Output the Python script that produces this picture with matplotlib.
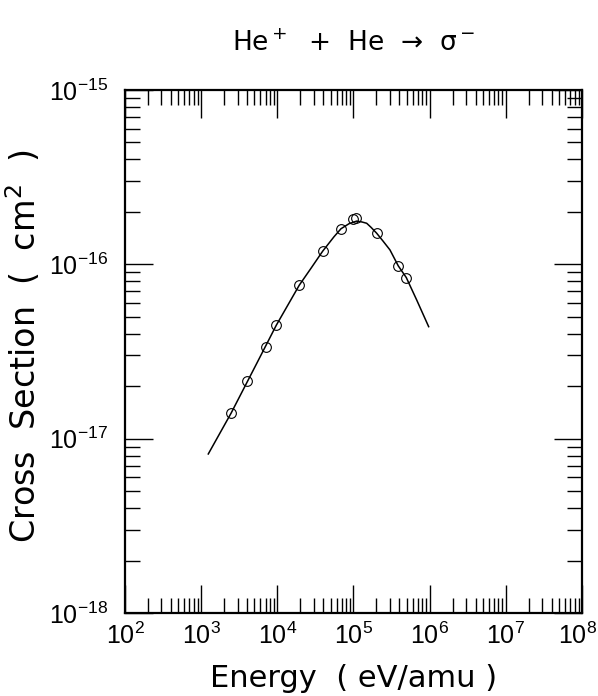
import matplotlib
matplotlib.use("Agg")
import matplotlib.pyplot as plt
import matplotlib.transforms as mtransforms
from matplotlib.ticker import LogLocator

# fitted curve (energy in eV/amu, cross section in cm^2)
fit_energy = [1.24e3, 2.47e3, 5.36e3, 9.68e3, 1.94e4, 2.77e4, 3.94e4, 5.55e4, 6.85e4, 8.73e4,
              1.10e5, 1.29e5, 1.49e5, 1.70e5, 2.01e5, 2.44e5, 3.01e5, 3.87e5, 4.93e5,
              6.76e5, 9.7e5]
fit_sigma = [8.17e-18, 1.40e-17, 2.70e-17, 4.47e-17, 7.59e-17, 9.5e-17, 1.19e-16, 1.44e-16,
             1.60e-16, 1.71e-16, 1.77e-16, 1.75e-16, 1.72e-16, 1.63e-16, 1.51e-16, 1.36e-16,
             1.21e-16, 9.8e-17, 8.4e-17, 6.24e-17, 4.39e-17]

# measured points
data_energy = [2.47e3, 3.96e3, 7.10e3, 9.68e3, 1.94e4, 3.94e4, 6.85e4,
               9.75e4, 1.08e5, 2.01e5, 3.87e5, 4.93e5]
data_sigma = [1.40e-17, 2.14e-17, 3.37e-17, 4.47e-17, 7.59e-17, 1.19e-16, 1.60e-16,
              1.81e-16, 1.85e-16, 1.51e-16, 9.8e-17, 8.4e-17]

x_limits = (1e2, 1e8)
y_limits = (1e-18, 1e-15)

tick_font = ["Liberation Sans", "DejaVu Sans"]

fig = plt.figure(figsize=(5.98, 6.96), dpi=100)
ax = fig.add_axes([125/598, 1 - 613/696, 457/598, 523/696])

ax.plot(fit_energy, fit_sigma, color="black", linewidth=1.1)
ax.plot(data_energy, data_sigma, linestyle="none", marker="o", markersize=7,
        markerfacecolor="none", markeredgecolor="black", markeredgewidth=0.8)

ax.set_xscale("log")
ax.set_yscale("log")
ax.set_xlim(x_limits)
ax.set_ylim(y_limits)

for axis in (ax.xaxis, ax.yaxis):
    axis.set_major_locator(LogLocator(base=10, numticks=20))
    axis.set_minor_locator(LogLocator(base=10, subs=range(2, 10), numticks=20))

for s in ax.spines.values():
    s.set_linewidth(1.6)

ax.tick_params(which="both", direction="in", top=True, right=True, width=1.0)
ax.tick_params(which="major", length=20)
ax.tick_params(which="minor", length=11)
ax.tick_params(axis="x", which="major", labelsize=18, pad=7, labelfontfamily=tick_font)
ax.tick_params(axis="y", which="major", labelsize=18, pad=12, labelfontfamily=tick_font)

ax.set_xlabel("Energy  ( eV/amu )", fontsize=22)
ax.set_ylabel("Cross  Section  (  cm$^2$  )", fontsize=24)
ax.xaxis.set_label_coords(0.5, -0.097)
ax.yaxis.set_label_coords(-0.179, 0.51)

ax.set_title("He$^+$  +  He  \u2192  \u03c3$^-$", fontsize=19, pad=28)

# the last x label sits a little left so it stays inside the figure
fig.canvas.draw()
for tick in ax.xaxis.get_major_ticks():
    if abs(tick.get_loc() - x_limits[1]) < 1.0:
        shift = mtransforms.ScaledTranslation(-4/100, 0, fig.dpi_scale_trans)
        tick.label1.set_transform(tick.label1.get_transform() + shift)

fig.savefig("out.png", dpi=100)
